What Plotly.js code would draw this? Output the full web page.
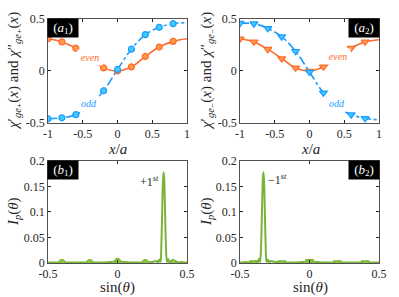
<!DOCTYPE html>
<html>
<head>
<meta charset="utf-8">
<script src="https://cdn.plot.ly/plotly-3.0.1.min.js"></script>
<style>html,body{margin:0;padding:0;background:#fff;}#chart{width:399px;height:297px;}</style>
</head>
<body>
<div id="chart"></div>
<script>
// ---- data ----
const xA = [-1, -0.8, -0.6, -0.4, -0.2, 0, 0.2, 0.4, 0.6, 0.8, 1];
const a1Even = [0.31, 0.28, 0.22, 0.13, 0.03, 0.0, 0.04, 0.14, 0.23, 0.285, 0.31];
const a1Odd  = [-0.46, -0.45, -0.42, -0.33, -0.19, 0.015, 0.21, 0.35, 0.42, 0.455, 0.465];
const a2Even = [0.31, 0.28, 0.21, 0.12, 0.03, 0.0, 0.04, 0.13, 0.22, 0.28, 0.30];
const a2Odd  = [0.46, 0.455, 0.41, 0.33, 0.19, -0.01, -0.21, -0.34, -0.42, -0.455, -0.47];

const bx1 = [-0.5,-0.4,-0.3,-0.2,-0.1,0,0.1,0.2,0.25,0.28,0.29,0.3,0.305,0.31,0.315,0.32,0.325,0.33,0.335,0.34,0.345,0.35,0.355,0.36,0.365,0.37,0.38,0.39,0.4,0.42,0.44,0.46,0.48,0.5];
const by1 = [0.001,0.001,0.001,0.001,0.001,0.003,0.001,0.001,0.002,0.004,0.001,0.007,0.003,0.003,0.03,0.085,0.145,0.178,0.17,0.125,0.065,0.02,0.002,0.007,0.008,0.002,0.003,0.004,0.001,0.003,0.001,0.002,0.001,0.001];
const bx2 = [-0.5,-0.48,-0.46,-0.44,-0.42,-0.4,-0.39,-0.38,-0.37,-0.365,-0.36,-0.355,-0.35,-0.345,-0.34,-0.335,-0.33,-0.325,-0.32,-0.315,-0.31,-0.305,-0.3,-0.29,-0.28,-0.25,-0.2,-0.1,0,0.1,0.2,0.3,0.4,0.5];
const by2 = [0.001,0.001,0.002,0.001,0.003,0.001,0.004,0.003,0.002,0.008,0.007,0.002,0.02,0.065,0.125,0.17,0.178,0.145,0.085,0.03,0.003,0.003,0.007,0.001,0.004,0.002,0.001,0.001,0.003,0.001,0.001,0.001,0.001,0.001];
const mX = [-0.4, -0.2, 0, 0.2, 0.4];
const mY1 = [0.001, 0.001, 0.003, 0.001, 0.001];
const mY2 = [0.001, 0.001, 0.003, 0.001, 0.001];

const xTopTicks = [-1, -0.5, 0, 0.5, 1];
const xTopText = ['-1', '-0.5', '0', '0.5', '1'];
const yTopTicks = [-0.5, 0, 0.5];
const yTopText = ['-0.5', '0', '0.5'];
const xBotTicks = [-0.5, 0, 0.5];
const xBotText = ['-0.5', '0', '0.5'];
const yBotTicks = [0, 0.05, 0.1, 0.15, 0.2];
const yBotText = ['0', '0.05', '0.1', '0.15', '0.2'];

// ---- styles ----
const ORANGE = '#ff6a2a', ORANGE_FILL = '#ff9a4a';
const BLUE = '#1a9cff', BLUE_FILL = '#45c8ff';
const GREEN = '#7ab33a', GREEN_FILL = '#8cc443';
const SERIF = '"Liberation Serif", "DejaVu Serif", serif';
const TXT = '#262626';
const N = xA.length - 1;

function lineTrace(x, y, xa, ya, color, dash) {
  return {x: x, y: y, xaxis: xa, yaxis: ya, mode: 'lines', type: 'scatter',
    line: {color: color, width: 1.6, dash: dash, shape: 'spline', smoothing: 1}, hoverinfo: 'skip'};
}
function markTrace(x, y, xa, ya, color, fill, symbol, size) {
  return {x: x, y: y, xaxis: xa, yaxis: ya, mode: 'markers', type: 'scatter',
    marker: {symbol: symbol, size: size, color: fill, line: {color: color, width: 1.2}}};
}

const data = [
  lineTrace(xA, a1Even, 'x', 'y', ORANGE, 'solid'),
  lineTrace(xA, a1Odd, 'x', 'y', BLUE, 'dashdot'),
  markTrace(xA.slice(0, N), a1Even.slice(0, N), 'x', 'y', ORANGE, ORANGE_FILL, 'circle', 6),
  markTrace(xA.slice(0, N), a1Odd.slice(0, N), 'x', 'y', BLUE, BLUE_FILL, 'circle', 6),
  lineTrace(xA, a2Even, 'x2', 'y2', ORANGE, 'solid'),
  lineTrace(xA, a2Odd, 'x2', 'y2', BLUE, 'dashdot'),
  markTrace(xA.slice(0, N), a2Even.slice(0, N), 'x2', 'y2', ORANGE, ORANGE_FILL, 'triangle-down', 7),
  markTrace(xA.slice(0, N), a2Odd.slice(0, N), 'x2', 'y2', BLUE, BLUE_FILL, 'triangle-down', 7),
  {x: bx1, y: by1, xaxis: 'x3', yaxis: 'y3', mode: 'lines', type: 'scatter',
    line: {color: GREEN, width: 2, shape: 'spline', smoothing: 0.5}},
  markTrace(mX, mY1, 'x3', 'y3', GREEN, GREEN_FILL, 'circle', 6),
  {x: bx2, y: by2, xaxis: 'x4', yaxis: 'y4', mode: 'lines', type: 'scatter',
    line: {color: GREEN, width: 2, shape: 'spline', smoothing: 0.5}},
  markTrace(mX, mY2, 'x4', 'y4', GREEN, GREEN_FILL, 'triangle-down', 7)
];

function ax(domain, range, tv, tt, anchor) {
  return {domain: domain, range: range, tickmode: 'array', tickvals: tv, ticktext: tt,
    anchor: anchor, showline: true, mirror: 'ticks', linecolor: TXT, linewidth: 0.8,
    ticks: 'inside', ticklen: 3, tickcolor: TXT, showgrid: false, zeroline: false,
    tickfont: {family: SERIF, size: 12, color: TXT}, fixedrange: true};
}

const xdL = [0.1203, 0.4687], xdR = [0.6015, 0.9499];
const ydT = [0.5859, 0.9360], ydB = [0.1145, 0.4579];

function px(x) { return x / 399; }
function py(y) { return 1 - y / 297; }
function panelLabel(cx, cy, letter) {
  return {xref: 'paper', yref: 'paper', x: px(cx), y: py(cy), xanchor: 'center', yanchor: 'middle',
    text: '(<i>' + letter[0] + '</i><sub>' + letter[1] + '</sub>)', showarrow: false,
    bgcolor: '#000', borderpad: 0, width: 30, height: 18,
    font: {family: SERIF, size: 13, color: '#fff'}};
}
function title(cx, cy, text, size, angle) {
  return {xref: 'paper', yref: 'paper', x: px(cx), y: py(cy), xanchor: 'center', yanchor: 'middle',
    text: text, showarrow: false, textangle: angle || 0, font: {family: SERIF, size: size, color: TXT}};
}
function curveLabel(xa, ya, x, y, text, color, w) {
  return {xref: xa, yref: ya, x: x, y: y, text: '<i>' + text + '</i>', showarrow: false,
    bgcolor: '#fff', borderpad: 0, width: w, height: 15, font: {family: SERIF, size: 10, color: color}};
}

const layout = {
  width: 399, height: 297, showlegend: false,
  margin: {l: 0, r: 0, t: 0, b: 0},
  paper_bgcolor: '#fff', plot_bgcolor: '#fff',
  xaxis: ax(xdL, [-1, 1], xTopTicks, xTopText, 'y'),
  yaxis: ax(ydT, [-0.5, 0.5], yTopTicks, yTopText, 'x'),
  xaxis2: ax(xdR, [-1, 1], xTopTicks, xTopText, 'y2'),
  yaxis2: ax(ydT, [-0.5, 0.5], yTopTicks, yTopText, 'x2'),
  xaxis3: ax(xdL, [-0.5, 0.5], xBotTicks, xBotText, 'y3'),
  yaxis3: ax(ydB, [0, 0.2], yBotTicks, yBotText, 'x3'),
  xaxis4: ax(xdR, [-0.5, 0.5], xBotTicks, xBotText, 'y4'),
  yaxis4: ax(ydB, [0, 0.2], yBotTicks, yBotText, 'x4'),
  annotations: [
    panelLabel(63, 28, 'a1'),
    panelLabel(364, 28, 'a2'),
    panelLabel(63, 170, 'b1'),
    panelLabel(364, 170, 'b2'),
    curveLabel('x', 'y', -0.39, 0.125, 'even', ORANGE, 24),
    curveLabel('x', 'y', -0.41, -0.31, 'odd', BLUE, 20),
    curveLabel('x2', 'y2', 0.41, 0.135, 'even', ORANGE, 24),
    curveLabel('x2', 'y2', 0.39, -0.31, 'odd', BLUE, 20),
    {xref: 'x3', yref: 'y3', x: 0.227, y: 0.16, text: '+1<sup><i>st</i></sup>', showarrow: false, font: {family: SERIF, size: 12, color: TXT}},
    {xref: 'x4', yref: 'y4', x: -0.227, y: 0.164, text: '−1<sup><i>st</i></sup>', showarrow: false, font: {family: SERIF, size: 12, color: TXT}},
    title(117, 149, '<i>x</i>/<i>a</i>', 15),
    title(310, 149, '<i>x</i>/<i>a</i>', 15),
    title(117, 287, 'sin(<i>θ</i>)', 15),
    title(310, 287, 'sin(<i>θ</i>)', 15),
    title(14, 71, '<i>χ</i>′<sub><i>ge</i>₊</sub>(<i>x</i>) and <i>χ</i>″<sub><i>ge</i>₊</sub>(<i>x</i>)', 15, -90),
    title(207, 71, '<i>χ</i>′<sub><i>ge</i>₋</sub>(<i>x</i>) and <i>χ</i>″<sub><i>ge</i>₋</sub>(<i>x</i>)', 15, -90),
    title(14, 212, '<i>I<sub>p</sub></i>(<i>θ</i>)', 15, -90),
    title(207, 212, '<i>I<sub>p</sub></i>(<i>θ</i>)', 15, -90)
  ]
};

Plotly.newPlot('chart', data, layout, {staticPlot: true, displayModeBar: false});
</script>
</body>
</html>
